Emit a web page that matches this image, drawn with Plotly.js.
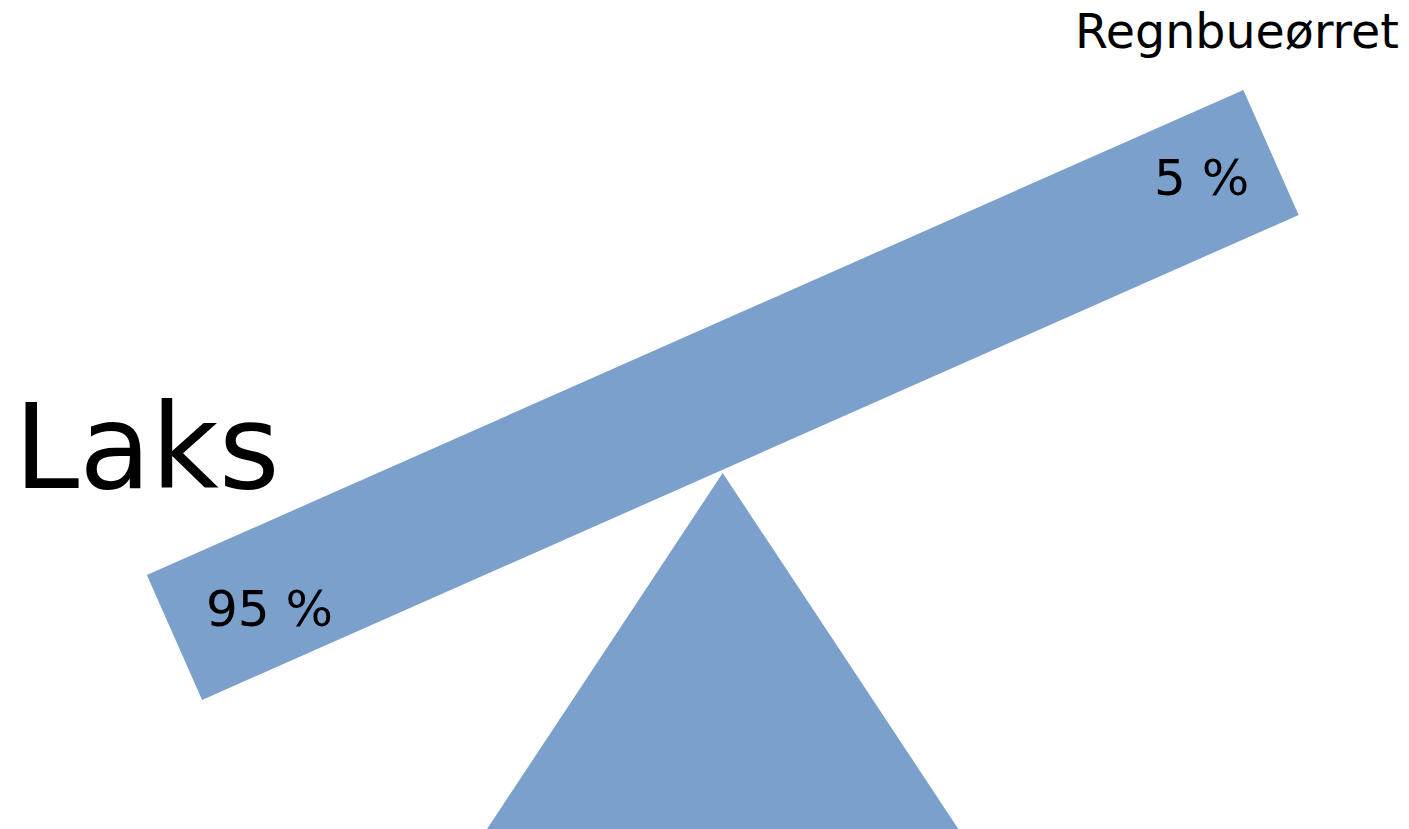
<!DOCTYPE html>
<html>
<head>
<meta charset="utf-8">
<script src="https://cdn.plot.ly/plotly-3.0.1.min.js"></script>
<style>html,body{margin:0;padding:0;background:#fff;}#chart{width:1409px;height:829px;}</style>
</head>
<body>
<div id="chart"></div>
<script>
// Data
var categories = ["Laks", "Regnbueørret"];
var shares = [95, 5];
var valueLabels = shares.map(function (v) { return v + " %"; });

// Illustration geometry (canvas units = pixels)
var W = 1409, H = 829;
var beamCenter = [722.75, 395];
var beamHalfLen = 599.5;
var beamHalfThick = 68.3;
var beamAngleDeg = 23.86;
var apex = [722.7, 473];
var baseHalfWidth = 237;
var fillColor = "#7ba0cc";

var th = beamAngleDeg * Math.PI / 180;
var ux = Math.cos(th), uy = -Math.sin(th);
var nx = Math.sin(th), ny = Math.cos(th);
function pt(a, b) {
  return [beamCenter[0] + a * beamHalfLen * ux + b * beamHalfThick * nx,
          beamCenter[1] + a * beamHalfLen * uy + b * beamHalfThick * ny];
}
var beamPts = [pt(-1, -1), pt(-1, 1), pt(1, 1), pt(1, -1), pt(-1, -1)];

var beam = {
  type: "scatter", mode: "lines", fill: "toself", fillcolor: fillColor,
  line: {width: 0, color: fillColor},
  x: beamPts.map(function (p) { return p[0]; }),
  y: beamPts.map(function (p) { return p[1]; }),
  hoverinfo: "skip", showlegend: false
};
var fulcrum = {
  type: "scatter", mode: "lines", fill: "toself", fillcolor: fillColor,
  line: {width: 0, color: fillColor},
  x: [apex[0], apex[0] + baseHalfWidth, apex[0] - baseHalfWidth, apex[0]],
  y: [apex[1], H + 2, H + 2, apex[1]],
  hoverinfo: "skip", showlegend: false
};

var fontFam = "DejaVu Sans, Verdana, sans-serif";
var annotations = [
  {text: categories[0], x: 12, y: 447, xanchor: "left", yanchor: "middle",
   font: {family: fontFam, size: 117, color: "#000"}},
  {text: categories[1], x: 1401, y: 31, xanchor: "right", yanchor: "middle",
   font: {family: fontFam, size: 47.5, color: "#000"}},
  {text: valueLabels[0], x: 269, y: 609, xanchor: "center", yanchor: "middle",
   font: {family: fontFam, size: 50, color: "#000"}},
  {text: valueLabels[1], x: 1201, y: 178, xanchor: "center", yanchor: "middle",
   font: {family: fontFam, size: 50, color: "#000"}}
].map(function (a) {
  a.xref = "x"; a.yref = "y"; a.showarrow = false; return a;
});

var layout = {
  width: W, height: H,
  margin: {l: 0, r: 0, t: 0, b: 0, pad: 0},
  paper_bgcolor: "#fff", plot_bgcolor: "#fff",
  xaxis: {range: [0, W], visible: false, fixedrange: true},
  yaxis: {range: [H, 0], visible: false, fixedrange: true},
  annotations: annotations,
  showlegend: false
};

Plotly.newPlot("chart", [beam, fulcrum], layout, {displayModeBar: false, staticPlot: true});
</script>
</body>
</html>
